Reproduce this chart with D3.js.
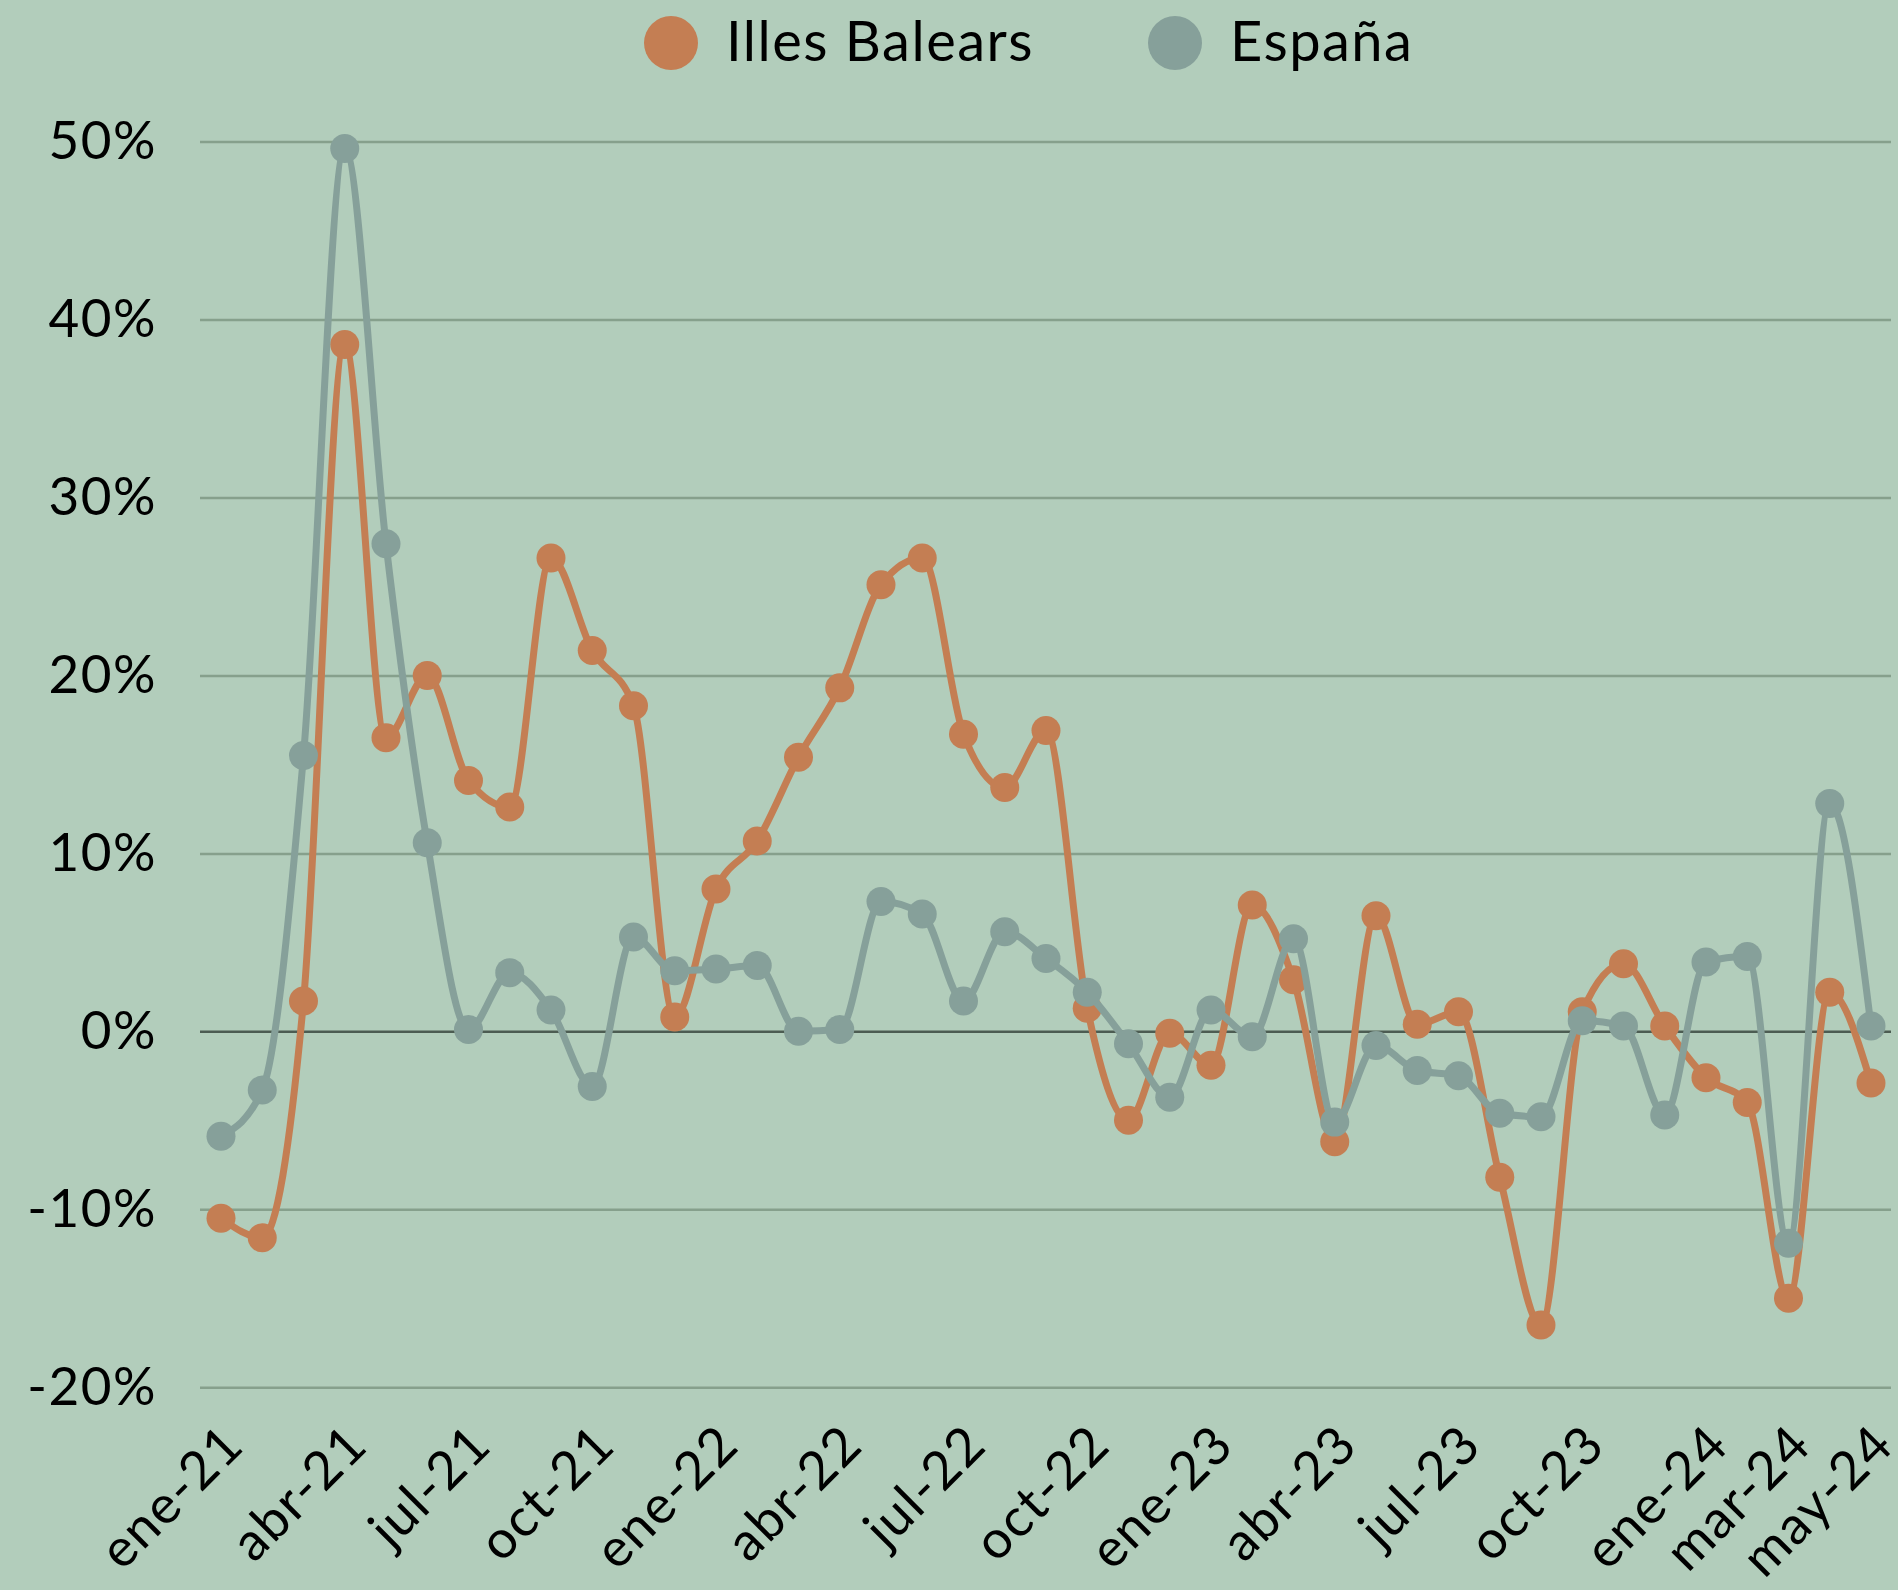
<!DOCTYPE html>
<html lang="es">
<head>
<meta charset="UTF-8">
<script src="https://d3js.org/d3.v7.min.js"></script>
<style>
  html, body { margin: 0; padding: 0; background: #b2cdbb; }
  svg { display: block; font-family: Lato, "Open Sans", sans-serif; }
  .lbl { letter-spacing: 1.5px; }
</style>
</head>
<body>
<div id="chart"></div>
<script>
// monthly categories ene-21 .. may-24
const months = [
  "ene-21","feb-21","mar-21","abr-21","may-21","jun-21","jul-21","ago-21","sep-21","oct-21","nov-21","dic-21",
  "ene-22","feb-22","mar-22","abr-22","may-22","jun-22","jul-22","ago-22","sep-22","oct-22","nov-22","dic-22",
  "ene-23","feb-23","mar-23","abr-23","may-23","jun-23","jul-23","ago-23","sep-23","oct-23","nov-23","dic-23",
  "ene-24","feb-24","mar-24","abr-24","may-24"
];
const tickLabels = ["ene-21","abr-21","jul-21","oct-21","ene-22","abr-22","jul-22","oct-22",
  "ene-23","abr-23","jul-23","oct-23","ene-24","mar-24","may-24"];
const yTicks = [-20, -10, 0, 10, 20, 30, 40, 50];

const baleares = [-10.5, -11.6, 1.7, 38.6, 16.5, 20.0, 14.1, 12.6, 26.6, 21.4, 18.3, 0.8,
  8.0, 10.7, 15.4, 19.3, 25.1, 26.6, 16.7, 13.7, 16.9, 1.3, -5.0, -0.1,
  -1.9, 7.1, 2.9, -6.2, 6.5, 0.4, 1.1, -8.2, -16.5, 1.1, 3.8, 0.3,
  -2.6, -4.0, -15.0, 2.2, -2.9];
const espana = [-5.9, -3.3, 15.5, 49.6, 27.4, 10.6, 0.1, 3.3, 1.2, -3.1, 5.3, 3.4,
  3.5, 3.7, 0.0, 0.1, 7.3, 6.6, 1.7, 5.6, 4.1, 2.2, -0.7, -3.7,
  1.2, -0.3, 5.2, -5.1, -0.8, -2.2, -2.5, -4.6, -4.8, 0.6, 0.3, -4.7,
  3.9, 4.2, -11.9, 12.8, 0.3];

const series = [
  { name: "Illes Balears", values: baleares, color: "#c47e53" },
  { name: "España", values: espana, color: "#86a09a" }
];

const W = 1898, H = 1590;
const svg = d3.select("#chart").append("svg").attr("width", W).attr("height", H);

const x = d3.scalePoint().domain(months).range([221, 1871]);
const y = d3.scaleLinear().domain([-20, 50]).range([1387.3, 141.5]);

// y axis + gridlines
const gx0 = 200, gx1 = 1891;
const yAxis = svg.append("g")
  .attr("transform", `translate(${gx0},0)`)
  .call(d3.axisLeft(y).tickValues(yTicks).tickSize(-(gx1 - gx0)).tickPadding(43).tickFormat(d => d + "%"))
  .attr("font-family", null).attr("font-size", null);
yAxis.select(".domain").remove();
yAxis.selectAll("line")
  .attr("stroke", d => d === 0 ? "#4c5c52" : "#86a08c")
  .attr("stroke-width", 2.5);
yAxis.selectAll("text")
  .attr("class", "lbl")
  .attr("fill", "#000")
  .style("font-size", "53px");

// x axis labels, rotated
const xAxis = svg.append("g")
  .attr("transform", "translate(0,1423)")
  .call(d3.axisBottom(x).tickValues(tickLabels).tickSize(0))
  .attr("font-family", null).attr("font-size", null);
xAxis.select(".domain").remove();
xAxis.selectAll("text")
  .attr("class", "lbl")
  .attr("fill", "#000")
  .style("font-size", "53px")
  .attr("text-anchor", "end")
  .attr("x", 0).attr("y", 0)
  .attr("dy", "0.66em")
  .attr("transform", "rotate(-45)");

// lines and markers
const line = d3.line()
  .x((d, i) => x(months[i]))
  .y(d => y(d))
  .curve(d3.curveMonotoneX);

series.forEach(s => {
  const g = svg.append("g");
  g.append("path")
    .datum(s.values)
    .attr("fill", "none")
    .attr("stroke", s.color)
    .attr("stroke-width", 7)
    .attr("d", line);
  g.selectAll("circle")
    .data(s.values)
    .join("circle")
    .attr("cx", (d, i) => x(months[i]))
    .attr("cy", d => y(d))
    .attr("r", 14.5)
    .attr("fill", s.color);
});

// legend
const legendPos = [671, 1175];
const legend = svg.append("g");
series.forEach((s, i) => {
  legend.append("circle")
    .attr("cx", legendPos[i]).attr("cy", 43).attr("r", 27)
    .attr("fill", s.color);
  legend.append("text")
    .attr("class", "lbl")
    .attr("x", legendPos[i] + 55).attr("y", 61)
    .style("font-size", "56px")
    .attr("fill", "#000")
    .text(s.name);
});
</script>
</body>
</html>
